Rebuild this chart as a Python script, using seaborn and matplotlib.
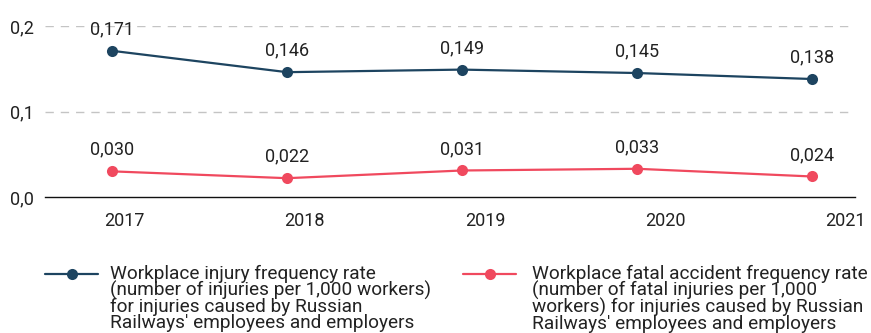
import matplotlib
matplotlib.use("Agg")
import matplotlib.pyplot as plt
from matplotlib.lines import Line2D
import seaborn as sns
import pandas as pd
import numpy as np

years = ["2017", "2018", "2019", "2020", "2021"]
injury_rate = [0.171, 0.146, 0.149, 0.145, 0.138]
fatal_rate = [0.030, 0.022, 0.031, 0.033, 0.024]
y_ticks = [0.0, 0.1, 0.2]
y_tick_labels = ["0,0", "0,1", "0,2"]
injury_label = ("Workplace injury frequency rate\n(number of injuries per 1,000 workers)\n"
                "for injuries caused by Russian\nRailways' employees and employers")
fatal_label = ("Workplace fatal accident frequency rate\n(number of fatal injuries per 1,000\n"
               "workers) for injuries caused by Russian\nRailways' employees and employers")

BLUE = "#1d4460"
RED = "#f0495e"
TEXT = "#222222"
W, H = 871, 333

sns.set_theme(style="white")
plt.rcParams["font.family"] = ["Roboto", "DejaVu Sans"]

pos = np.arange(len(years))
df = pd.DataFrame({
    "pos": np.concatenate([pos, pos]),
    "value": injury_rate + fatal_rate,
    "series": ["injury"] * len(years) + ["fatal"] * len(years),
})

fig = plt.figure(figsize=(W / 100, H / 100), dpi=100)
ax = fig.add_axes([45 / W, 1 - 197 / H, 810 / W, 171 / H])

sns.lineplot(data=df, x="pos", y="value", hue="series",
             palette={"injury": BLUE, "fatal": RED},
             marker="o", markersize=8, markeredgewidth=0, linewidth=1.6,
             legend=False, ax=ax)

for vals in (injury_rate, fatal_rate):
    for x, v in zip(pos, vals):
        ax.annotate(f"{v:.3f}".replace(".", ","), (x, v), xytext=(0, 9),
                    textcoords="offset points", ha="center", va="bottom",
                    fontsize=13, color=TEXT)

ax.set_xlim(-0.383, 4.246)
ax.set_ylim(0, 0.2)
ax.set_yticks(y_ticks)
ax.set_yticklabels(y_tick_labels)
ax.set_xticks(0.069 + 1.031 * pos)
ax.set_xticklabels(years)
ax.set_xlabel("")
ax.set_ylabel("")
ax.tick_params(axis="both", length=0, labelsize=13, colors=TEXT)
ax.tick_params(axis="x", pad=11)
ax.tick_params(axis="y", pad=8)

for s in ["top", "right", "left"]:
    ax.spines[s].set_visible(False)
ax.spines["bottom"].set_color("#111111")
ax.spines["bottom"].set_linewidth(1.0)

for yv in y_ticks[1:]:
    ax.axhline(yv, color="#c4c4c4", linewidth=1.0, linestyle=(0, (6, 5)), zorder=0)


def legend_entry(color, label, x_line, x_text):
    """Key line with a dot, followed by a multi-line caption aligned to its top line."""
    y_key = 1 - 274 / H
    fig.add_artist(Line2D([x_line / W, (x_line + 53) / W], [y_key, y_key],
                          transform=fig.transFigure, color=color, linewidth=1.6))
    fig.add_artist(Line2D([(x_line + 26.5) / W], [y_key], transform=fig.transFigure,
                          color=color, marker="o", markersize=8, markeredgewidth=0,
                          linestyle="none"))
    fig.text(x_text / W, 1 - 265 / H, label, ha="left", va="top", fontsize=13.7,
             color=TEXT, linespacing=0.86)


legend_entry(BLUE, injury_label, 45, 110)
legend_entry(RED, fatal_label, 463, 532)

fig.savefig("out.png", dpi=100)
